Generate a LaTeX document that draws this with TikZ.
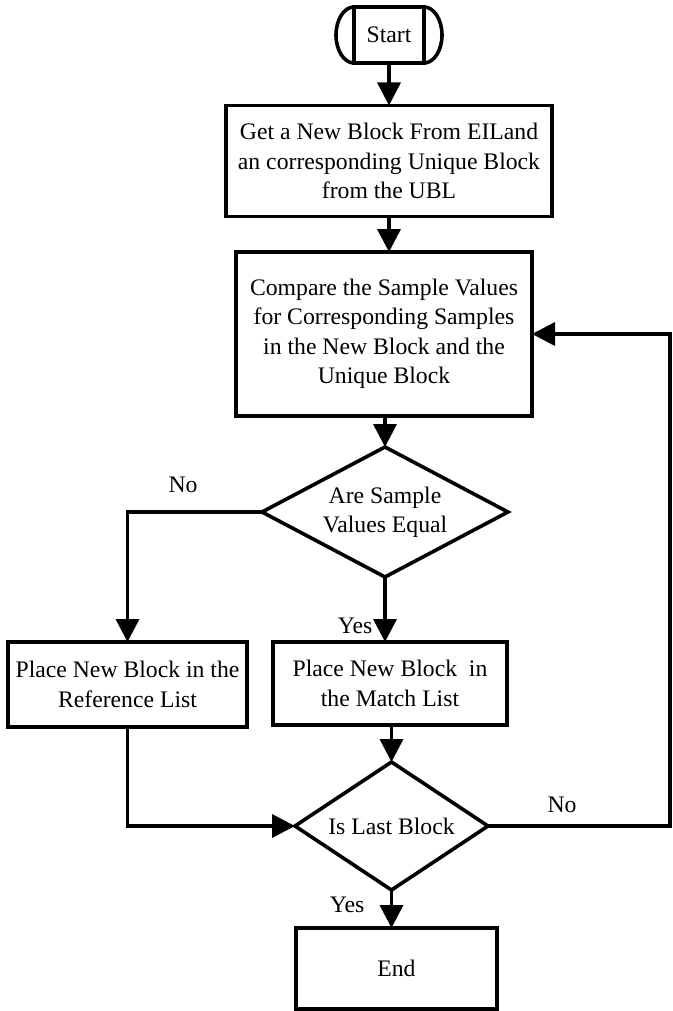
\documentclass[tikz,border=0pt]{standalone}
\usepackage{fontspec}
\setmainfont{Liberation Serif}
\usetikzlibrary{arrows.meta,shapes.geometric}
\begin{document}
\begin{tikzpicture}[x=1pt,y=-1pt,
  every node/.style={font=\fontsize{23.7}{29.5}\selectfont},
  proc/.style={draw, line width=3.6pt, rectangle, align=center, inner sep=0pt, outer sep=0pt},
  decision/.style={draw, line width=3.6pt, diamond, inner sep=0pt, outer sep=0pt},
  flow/.style={line width=3.6pt, -{Triangle[length=23pt,width=23pt]}},
  wire/.style={line width=3.6pt},
  lbl/.style={inner sep=0pt}
]
\useasboundingbox (0,0) rectangle (672,1011);

% terminator: inner box with elliptic end caps
\node[proc, minimum width=70pt, minimum height=56pt] (start) at (389,35) {Start};
\draw[wire] (start.north west) arc[start angle=90, end angle=270, x radius=18pt, y radius=28pt];
\draw[wire] (start.north east) arc[start angle=90, end angle=-90, x radius=18pt, y radius=28pt];

% process boxes
\node[proc, minimum width=326pt, minimum height=111pt] (b1) at (389,161)
  {Get a New Block From EILand\\an corresponding Unique Block\\from the UBL};
\node[proc, minimum width=296pt, minimum height=164pt] (b2) at (384,334)
  {Compare the Sample Values\\for Corresponding Samples\\in the New Block and the\\Unique Block};
\node[decision, minimum width=246pt, minimum height=130pt] (d1) at (385,512)
  {\makebox[0pt]{\begin{tabular}{@{}c@{}}Are Sample\\Values Equal\end{tabular}}};
\node[proc, minimum width=239pt, minimum height=85pt] (b3) at (127.5,684.5)
  {Place New Block in the\\Reference List};
\node[proc, minimum width=234pt, minimum height=83pt] (b4) at (390,683.5)
  {Place New Block\ \ in\\the Match List};
\node[decision, minimum width=193pt, minimum height=128pt] (d2) at (391.5,826)
  {\makebox[0pt]{Is Last Block}};
\node[proc, minimum width=201pt, minimum height=81pt] (end) at (396.5,968.5) {End};

% branch labels
\node[lbl] (no1) at (183,485) {No};
\node[lbl] (yes1) at (355,626) {Yes};
\node[lbl] (no2) at (562,805) {No};
\node[lbl] (yes2) at (347,905) {Yes};

% connectors
\draw[flow] (start.south) -- (start.south |- b1.north);
\draw[flow] (b1.south) -- (b1.south |- b2.north);
\draw[flow] (d1.north |- b2.south) -- (d1.north);
\draw[flow] (d1.west) -| (b3.north);
\draw[flow] (d1.south) -- (d1.south |- b4.north);
\draw[flow] (d2.north |- b4.south) -- (d2.north);
\draw[flow] (b3.south) |- (d2.west);
\coordinate (loop) at (670,826);
\draw[flow] (d2.east) -- (loop) |- (b2.east);
\draw[flow] (d2.south) -- (d2.south |- end.north);
\end{tikzpicture}
\end{document}
